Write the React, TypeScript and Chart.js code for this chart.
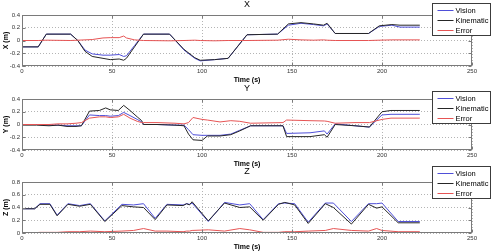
import React, { useEffect, useRef } from "react";
import { Chart, registerables } from "chart.js";

Chart.register(...registerables);

// ---------- data ----------
const timeTicks = [0, 50, 100, 150, 200, 250];
const posTicks = [-0.4, -0.2, 0, 0.2, 0.4];
const zTicks = [0, 0.2, 0.4, 0.6, 0.8];
const seriesLabels = ["Vision", "Kinematic", "Error"];

// X panel
const xTime = [0, 9, 13.5, 27, 31, 35, 39, 45, 49, 54, 56.5, 58, 62.5, 67.5, 82, 90, 96, 99, 107, 114.5, 125, 142, 148, 155, 162, 167.5, 169.5, 174, 192.5, 198.5, 205.5, 210, 221];
const xKinematic = [-0.1, -0.1, 0.1, 0.1, 0.0, -0.17, -0.25, -0.28, -0.3, -0.29, -0.31, -0.28, -0.1, 0.1, 0.1, -0.14, -0.27, -0.31, -0.3, -0.28, 0.09, 0.1, 0.26, 0.28, 0.26, 0.24, 0.27, 0.11, 0.11, 0.23, 0.25, 0.24, 0.24];
const xVision = [-0.1, -0.1, 0.1, 0.1, 0.0, -0.15, -0.21, -0.23, -0.23, -0.22, -0.25, -0.24, -0.08, 0.1, 0.1, -0.15, -0.28, -0.32, -0.3, -0.28, 0.09, 0.1, 0.24, 0.27, 0.25, 0.23, 0.26, 0.11, 0.11, 0.22, 0.24, 0.21, 0.21];
const xError = [0, 0, 0.005, 0, 0.005, 0.01, 0.015, 0.04, 0.045, 0.045, 0.07, 0.04, 0.01, 0, -0.005, 0, 0.005, 0, -0.005, 0, 0, 0.005, 0.02, 0.01, 0.005, 0.01, 0.005, 0, 0, 0.005, 0.01, 0.01, 0.01];

// Y panel
const yTime = [0, 8, 15, 20, 25, 30, 33, 37.5, 43, 46.5, 49, 53.5, 56.5, 60, 64, 66.5, 67.5, 75, 85, 90, 92.5, 95, 100, 103, 110, 116, 121, 127, 145, 147, 160, 168, 169.5, 174, 185, 193, 200, 205, 221];
const yKinematic = [-0.01, -0.01, -0.02, -0.01, -0.03, -0.03, -0.02, 0.21, 0.22, 0.26, 0.23, 0.22, 0.3, 0.22, 0.12, 0.06, 0, 0, -0.01, -0.02, -0.15, -0.24, -0.25, -0.18, -0.18, -0.16, -0.1, -0.02, -0.02, -0.19, -0.19, -0.16, -0.2, 0, -0.02, -0.04, 0.2, 0.22, 0.22];
const yVision = [0, 0, -0.01, -0.01, -0.02, -0.02, -0.02, 0.15, 0.14, 0.14, 0.13, 0.14, 0.19, 0.14, 0.08, 0.04, 0, 0, -0.01, -0.01, -0.08, -0.16, -0.17, -0.17, -0.17, -0.15, -0.09, -0.02, -0.02, -0.14, -0.13, -0.1, -0.15, 0.01, -0.02, -0.04, 0.15, 0.16, 0.16];
const yError = [0, 0, 0, 0.01, 0.01, 0.02, 0.03, 0.1, 0.12, 0.12, 0.11, 0.12, 0.16, 0.1, 0.05, 0.03, 0.03, 0.03, 0.02, 0.01, 0.03, 0.11, 0.08, 0.07, 0.04, 0.06, 0.05, 0.02, 0.03, 0.07, 0.06, 0.055, 0.05, 0.02, 0.03, 0.03, 0.08, 0.1, 0.1];

// Z panel
const zTime = [0, 7, 10, 15.5, 19.5, 25.5, 32, 38, 46, 55.5, 62, 67.5, 74, 80.5, 89.5, 91.5, 93, 94.5, 103.5, 112.5, 121, 126.5, 134, 142.5, 146, 151.5, 159, 168.5, 173, 183, 192.5, 197, 200, 209, 221];
const zKinematic = [0.38, 0.38, 0.45, 0.45, 0.27, 0.45, 0.42, 0.45, 0.18, 0.43, 0.41, 0.4, 0.21, 0.44, 0.43, 0.46, 0.44, 0.49, 0.19, 0.47, 0.4, 0.41, 0.2, 0.45, 0.48, 0.44, 0.15, 0.46, 0.4, 0.14, 0.45, 0.39, 0.41, 0.16, 0.16];
const zVision = [0.38, 0.38, 0.46, 0.46, 0.28, 0.46, 0.43, 0.46, 0.19, 0.45, 0.44, 0.46, 0.23, 0.45, 0.44, 0.46, 0.45, 0.47, 0.18, 0.48, 0.44, 0.46, 0.21, 0.46, 0.47, 0.46, 0.17, 0.47, 0.47, 0.18, 0.46, 0.46, 0.47, 0.18, 0.18];
const zError = [0, 0.005, 0.01, 0.01, 0.01, 0.02, 0.02, 0.03, 0.02, 0.03, 0.04, 0.07, 0.03, 0.03, 0.02, 0.03, 0.03, 0.04, 0.05, 0.03, 0.07, 0.05, 0.01, 0.01, 0.02, 0.02, 0.03, 0.04, 0.07, 0.04, 0.03, 0.07, 0.04, 0.02, 0.02];

// ---------- styles ----------
const FONT = '"Liberation Sans", Arial, Helvetica, sans-serif';
const BLUE = "#4f4fd8";
const BLACK = "#262626";
const RED = "#e65454";
const AXIS = "#7a7a7a";
const GRID = "#b4b4b4";
const W = 497;
const PLOT_LEFT = 22;
const PLOT_RIGHT = 472;

type PanelCfg = {
  top: number;
  height: number;
  plotTop: number;
  plotBottom: number;
  title: string;
  ylabel: string;
  time: number[];
  vision: number[];
  kinematic: number[];
  error: number[];
  yMin: number;
  yMax: number;
  yTicks: number[];
  legendTop: number;
};

const panels: PanelCfg[] = [
  { top: 0, height: 84, plotTop: 15, plotBottom: 66, title: "X", ylabel: "X (m)", time: xTime, vision: xVision, kinematic: xKinematic, error: xError, yMin: -0.4, yMax: 0.4, yTicks: posTicks, legendTop: 3 },
  { top: 84, height: 84, plotTop: 15, plotBottom: 66, title: "Y", ylabel: "Y (m)", time: yTime, vision: yVision, kinematic: yKinematic, error: yError, yMin: -0.4, yMax: 0.4, yTicks: posTicks, legendTop: 7 },
  { top: 160, height: 92, plotTop: 22, plotBottom: 73, title: "Z", ylabel: "Z (m)", time: zTime, vision: zVision, kinematic: zKinematic, error: zError, yMin: 0, yMax: 0.8, yTicks: zTicks, legendTop: 6 },
];

const fmtY = (v: number) => {
  const r = Math.round(v * 10) / 10;
  return r === 0 ? "0" : String(r);
};

function Panel({ cfg }: { cfg: PanelCfg }) {
  const ref = useRef<HTMLCanvasElement>(null);
  useEffect(() => {
    const canvas = ref.current!;
    const pts = (ys: number[]) => cfg.time.map((t, i) => ({ x: t, y: ys[i] }));
    const deco = {
      id: "panelDeco",
      afterDraw(chart: any) {
        const ctx = chart.ctx as CanvasRenderingContext2D;
        const a = chart.chartArea;
        const xs = chart.scales.x;
        const ys = chart.scales.y;
        ctx.save();
        // axes box
        ctx.strokeStyle = AXIS;
        ctx.lineWidth = 1;
        const L = Math.round(a.left) + 0.5;
        const T = Math.round(a.top) + 0.5;
        const R = Math.round(a.right) - 0.5;
        const B = Math.round(a.bottom) - 0.5;
        ctx.strokeRect(L, T, R - L, B - T);
        // inward tick marks
        ctx.beginPath();
        for (const v of timeTicks) {
          const p = Math.round(xs.getPixelForValue(v)) + 0.5;
          ctx.moveTo(p, B); ctx.lineTo(p, B - 3);
          ctx.moveTo(p, T); ctx.lineTo(p, T + 3);
        }
        for (const v of cfg.yTicks) {
          const p = Math.round(ys.getPixelForValue(v)) + 0.5;
          ctx.moveTo(L, p); ctx.lineTo(L + 3, p);
          ctx.moveTo(R, p); ctx.lineTo(R - 3, p);
        }
        ctx.stroke();
        // title
        const cx = (a.left + a.right) / 2;
        ctx.fillStyle = "#000";
        ctx.textAlign = "center";
        ctx.textBaseline = "middle";
        ctx.font = `9px ${FONT}`;
        ctx.fillText(cfg.title, cx, a.top - 10);
        // x label
        ctx.font = `bold 7px ${FONT}`;
        ctx.fillText("Time (s)", cx, a.bottom + 14);
        // y label
        ctx.save();
        ctx.translate(6, (a.top + a.bottom) / 2);
        ctx.rotate(-Math.PI / 2);
        ctx.fillText(cfg.ylabel, 0, 0);
        ctx.restore();
        // legend
        const lx = 432.5;
        const ly = cfg.legendTop + 0.5;
        const lw = 58;
        const lh = 32;
        ctx.fillStyle = "#fff";
        ctx.fillRect(lx, ly, lw, lh);
        ctx.strokeStyle = "#3c3c3c";
        ctx.strokeRect(lx, ly, lw, lh);
        const colors = [BLUE, BLACK, RED];
        ctx.font = `7.5px ${FONT}`;
        ctx.textAlign = "left";
        seriesLabels.forEach((lab, i) => {
          const ry = Math.round(ly + 6 + i * 10.3) + 0.5;
          ctx.strokeStyle = colors[i];
          ctx.beginPath();
          ctx.moveTo(lx + 5, ry);
          ctx.lineTo(lx + 21, ry);
          ctx.stroke();
          ctx.fillStyle = "#000";
          ctx.fillText(lab, lx + 23, ry);
        });
        ctx.restore();
      },
    };
    const tickFont = { family: FONT, size: 6 };
    const chart = new Chart(canvas, {
      type: "line",
      data: {
        datasets: [
          { label: seriesLabels[0], data: pts(cfg.vision), borderColor: BLUE, borderWidth: 1, pointRadius: 0, tension: 0, order: 2 },
          { label: seriesLabels[1], data: pts(cfg.kinematic), borderColor: BLACK, borderWidth: 1, pointRadius: 0, tension: 0, order: 1 },
          { label: seriesLabels[2], data: pts(cfg.error), borderColor: RED, borderWidth: 1, pointRadius: 0, tension: 0, order: 0 },
        ],
      },
      options: {
        animation: false,
        responsive: false,
        devicePixelRatio: 1,
        events: [],
        layout: { padding: { top: cfg.plotTop, right: W - PLOT_RIGHT, left: 0, bottom: 0 } },
        plugins: { legend: { display: false }, title: { display: false }, tooltip: { enabled: false } },
        scales: {
          x: {
            type: "linear",
            min: 0,
            max: 250,
            afterBuildTicks: (s: any) => { s.ticks = timeTicks.map((v) => ({ value: v })); },
            afterFit: (s: any) => { s.height = cfg.height - cfg.plotBottom; },
            grid: { color: GRID, drawTicks: false, lineWidth: 1 },
            border: { display: false, dash: [1, 2] },
            ticks: { font: tickFont, color: "#333", padding: 2, maxRotation: 0, autoSkip: false, callback: (v: any) => String(v) },
          },
          y: {
            type: "linear",
            min: cfg.yMin,
            max: cfg.yMax,
            afterBuildTicks: (s: any) => { s.ticks = cfg.yTicks.map((v) => ({ value: v })); },
            afterFit: (s: any) => { s.width = PLOT_LEFT; },
            grid: { color: GRID, drawTicks: false, lineWidth: 1 },
            border: { display: false, dash: [1, 2] },
            ticks: { font: tickFont, color: "#333", padding: 2, autoSkip: false, callback: (v: any) => fmtY(v) },
          },
        },
      },
      plugins: [deco],
    } as any);
    return () => chart.destroy();
  }, []);
  return (
    <canvas
      ref={ref}
      width={W}
      height={cfg.height}
      style={{ position: "absolute", left: 0, top: cfg.top, width: W, height: cfg.height }}
    />
  );
}

export default function App() {
  return (
    <div style={{ position: "fixed", left: 0, top: 0, width: W, height: 252, background: "#fff", overflow: "hidden" }}>
      {panels.map((p, i) => (
        <Panel key={i} cfg={p} />
      ))}
    </div>
  );
}
